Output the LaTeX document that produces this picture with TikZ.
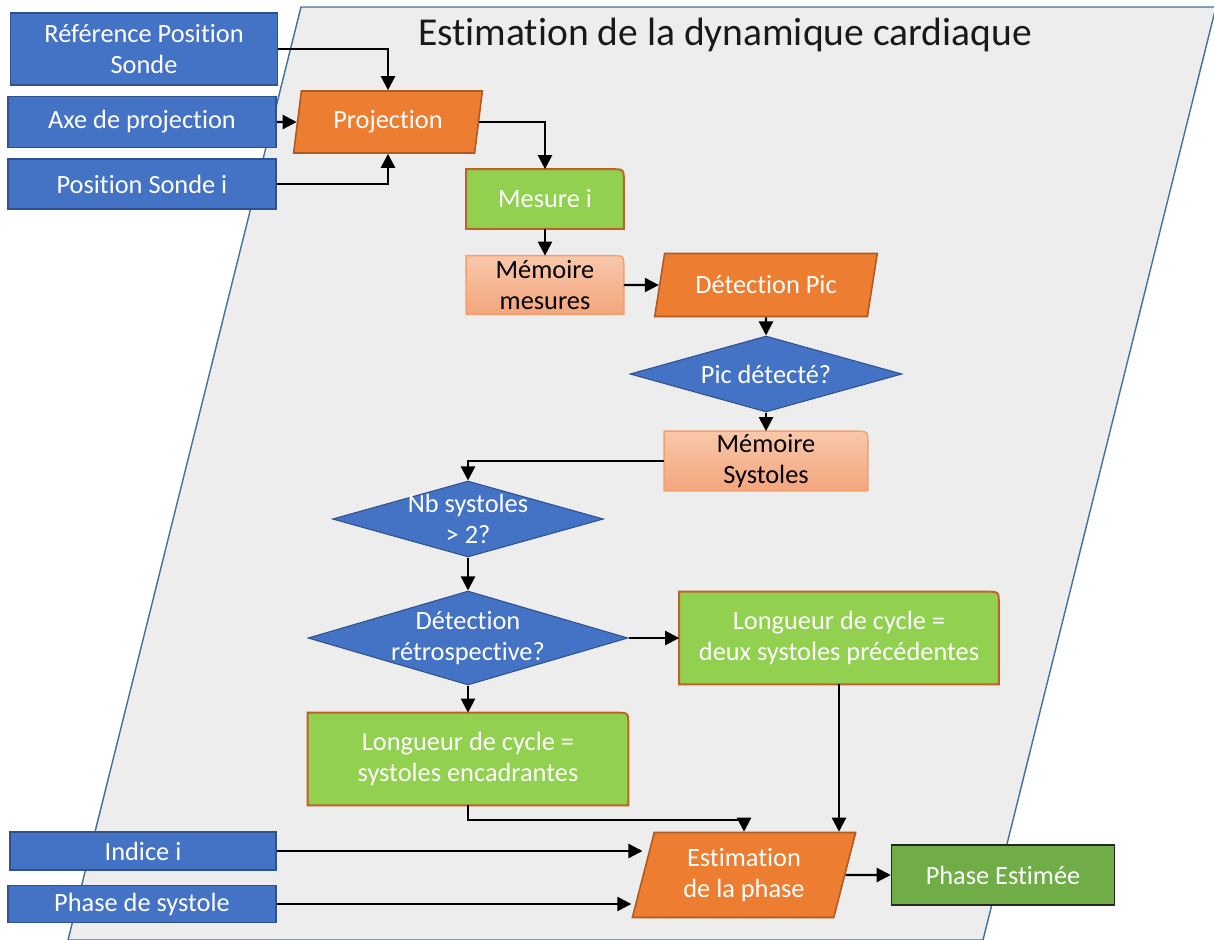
\documentclass[tikz,border=0pt]{standalone}
\usepackage{fontspec}
\setmainfont{Carlito}[Ligatures=NoCommon]
\usetikzlibrary{positioning,arrows.meta,shapes.geometric,calc,backgrounds}

\definecolor{bleuE}{HTML}{4472C4}
\definecolor{bleuB}{HTML}{2F528F}
\definecolor{orangeP}{HTML}{ED7D31}
\definecolor{orangeB}{HTML}{AE5A21}
\definecolor{vertP}{HTML}{92D050}
\definecolor{vertB}{HTML}{BF6128}
\definecolor{saumonH}{HTML}{F8C8AA}
\definecolor{saumonB}{HTML}{F4A57E}
\definecolor{saumonT}{HTML}{F4A06C}
\definecolor{vertF}{HTML}{70AD47}
\definecolor{fondG}{HTML}{EDEDED}
\definecolor{fondB}{HTML}{41719C}

% boite avec un seul coin arrondi (en haut a droite)
\newcommand{\coin}[2]{%
  \path[#1] (#2.south west) -- (#2.north west) -- ([xshift=-7pt]#2.north east)
    .. controls (#2.north east) .. ([yshift=-7pt]#2.north east) -- (#2.south east) -- cycle;}

\begin{document}
\begin{tikzpicture}[x=0.02cm, y=-0.02cm,
  every node/.style={font=\fontsize{15}{17.6}\selectfont, align=center},
  entree/.style={rectangle, draw=bleuB, line width=0.9pt, fill=bleuE, text=white},
  calcul/.style={trapezium, trapezium stretches=true, trapezium left angle=76, trapezium right angle=104, draw=orangeB, line width=0.9pt, fill=orangeP, text=white},
  decision/.style={diamond, draw=bleuB, line width=0.6pt, fill=bleuE},
  blanc/.style={text=white},
  etape/.style={rectangle, text=white},
  memoire/.style={rectangle, text=black, inner sep=0pt},
  etapefond/.style={draw=vertB, line width=1.1pt, fill=vertP},
  memfond/.style={draw=saumonT, line width=0.8pt, top color=saumonH, bottom color=saumonB},
  sortie/.style={rectangle, draw=black!85, line width=0.9pt, fill=vertF, text=white},
  fleche/.style={-{Triangle[length=8pt,width=8pt]}, line width=1.3pt, black},
  fond/.style={draw=fondB, line width=0.8pt, fill=fondG}
]
\useasboundingbox (0,0) rectangle (1214,940);

% Titre
\node[font=\fontsize{22.5}{26}\selectfont, text=black!90] (titre) at (725,35) {Estimation de la dynamique cardiaque};

% Entrees
\node[entree, minimum width=5.34cm, minimum height=1.44cm] (ref) at (144,49) {Référence Position\\Sonde};
\node[entree, minimum width=5.36cm, minimum height=1.02cm] (axe) at (142,122) {Axe de projection};
\node[entree, minimum width=5.36cm, minimum height=1.0cm] (pos) at (142,184) {Position Sonde i};
\node[entree, minimum width=5.32cm, minimum height=0.76cm] (indice) at (143,851) {Indice i};
\node[entree, minimum width=5.36cm, minimum height=0.74cm] (phsys) at (142,904) {Phase de systole};

% Calculs
\node[calcul, trapezium left angle=81, trapezium right angle=99, minimum width=3.78cm, minimum height=1.24cm] (proj) at (388,122) {Projection};
\node[calcul, minimum width=4.48cm, minimum height=1.26cm] (pic) at (766,285) {Détection Pic};
\node[calcul, minimum width=4.48cm, minimum height=1.7cm] (estim) at (744,875) {Estimation\\de la phase};

% Etapes et memoires
\node[etape, minimum width=3.14cm, minimum height=1.18cm] (mes) at (545,199) {Mesure i};
\node[memoire, minimum width=3.14cm, minimum height=1.16cm] (memm) at (545,285) {Mémoire\\mesures};
\node[memoire, minimum width=4.06cm, minimum height=1.18cm] (mems) at (766,461) {Mémoire\\Systoles};
\node[etape, minimum width=6.38cm, minimum height=1.84cm] (deux) at (839,638) {Longueur de cycle =\\deux systoles précédentes};
\node[etape, minimum width=6.4cm, minimum height=1.84cm] (enc) at (468,759) {Longueur de cycle =\\systoles encadrantes};

% Decisions
\node[decision, minimum width=5.44cm, minimum height=1.52cm, label={[blanc]center:Pic détecté?}] (picq) at (766,374) {};
\node[decision, minimum width=5.42cm, minimum height=1.52cm, label={[blanc]center:Nb systoles\\> 2?}] (nbq) at (468,519) {};
\node[decision, minimum width=6.4cm, minimum height=1.88cm, label={[blanc]center:Détection\\rétrospective?}] (retq) at (468,638) {};

% Sortie
\node[sortie, minimum width=4.46cm, minimum height=1.2cm] (phest) at (1003,875) {Phase Estimée};

% Fleches
\draw[fleche] (ref.east) -| (proj.north);
\draw[fleche] (axe.east) -- (proj.west);
\draw[fleche] (pos.east) -| (proj.south);
\draw[fleche] (proj.east) -| (mes.north);
\draw[fleche] (mes.south) -- (memm.north);
\draw[fleche] (memm.east) -- (pic.west);
\draw[fleche] (pic.south) -- (picq.north);
\draw[fleche] (picq.south) -- (mems.north);
\draw[fleche] (mems.west) -| (nbq.north);
\draw[fleche] (nbq.south) -- (retq.north);
\draw[fleche] (retq.east) -- (deux.west);
\draw[fleche] (retq.south) -- (enc.north);
\draw[fleche] (enc.south) -- ++(0,15) -| (estim.north);
\draw[fleche] (deux.south) -- (deux.south |- estim.north);
\draw[fleche] (indice.east) -- (indice.east -| estim.west);
\draw[fleche] (phsys.east) -- (phsys.east -| estim.bottom left corner);
\draw[fleche] (estim.east) -- (phest.west);

% Fond et boites a coin arrondi
\begin{scope}[on background layer]
  \draw[fond] (301,7) -- (1216,7) -- (983,940) -- (68,940) -- cycle;
  \coin{etapefond}{mes}
  \coin{etapefond}{deux}
  \coin{etapefond}{enc}
  \coin{memfond}{memm}
  \coin{memfond}{mems}
\end{scope}
\end{tikzpicture}
\end{document}
